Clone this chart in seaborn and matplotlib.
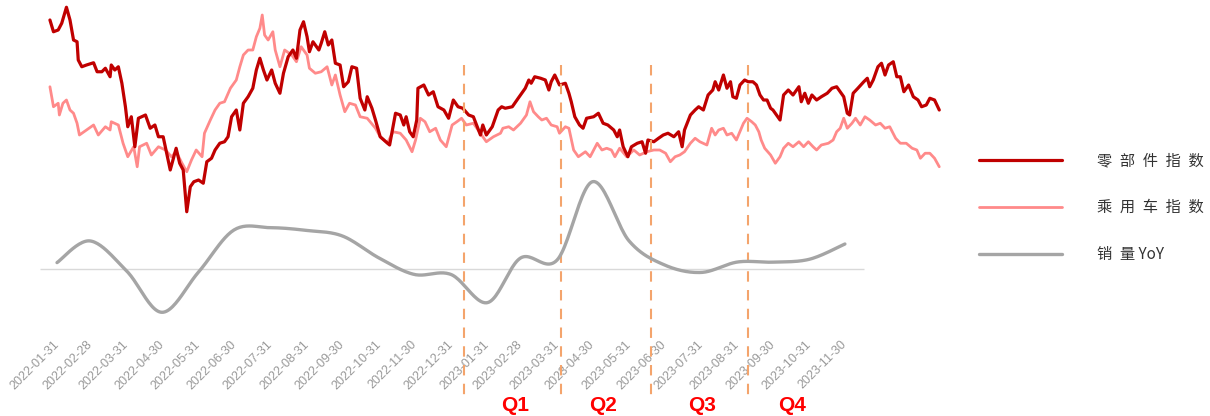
import numpy as np
import pandas as pd
import matplotlib
matplotlib.use("Agg")
import matplotlib.pyplot as plt
import matplotlib.dates as mdates
import matplotlib.transforms as mtransforms
import seaborn as sns

# ---------------- data ----------------
tick_labels = ["2022-01-31", "2022-02-28", "2022-03-31", "2022-04-30", "2022-05-31",
               "2022-06-30", "2022-07-31", "2022-08-31", "2022-09-30", "2022-10-31",
               "2022-11-30", "2022-12-31", "2023-01-31", "2023-02-28", "2023-03-31",
               "2023-04-30", "2023-05-31", "2023-06-30", "2023-07-31", "2023-08-31",
               "2023-09-30", "2023-10-31", "2023-11-30"]
# 销量 YoY (%), monthly
sales_yoy = [4.3, 18.4, -1.1, -28.0, -1.8, 25.5, 27.0, 25.2, 21.6, 7.3, -3.4, -3.4,
             -21.7, 7.3, 6.0, 56.9, 18.4, 2.8, -2.1, 4.7, 4.6, 6.5, 16.4]

index_start = "2022-01-25"
# 零部件指数: day offsets from index_start and index level
parts_day = [0, 3, 7, 10, 14, 17, 20, 23, 24, 27,
             31, 37, 40, 44, 47, 51, 52, 55, 58, 61,
             64, 66, 69, 72, 75, 81, 85, 89, 92, 96,
             99, 102, 105, 107, 110, 113, 116, 119, 122, 126,
             130, 133, 137, 140, 144, 148, 151, 154, 158, 161,
             164, 168, 172, 175, 178, 181, 184, 188, 191, 195,
             198, 202, 206, 209, 212, 215, 218, 220, 223, 228,
             230, 233, 236, 239, 242, 246, 249, 253, 256, 260,
             263, 267, 269, 273, 276, 280, 288, 293, 297, 300,
             302, 305, 308, 311, 312, 317, 321, 325, 329, 334,
             338, 342, 346, 350, 355, 359, 365, 367, 370, 375,
             380, 383, 386, 392, 397, 403, 406, 408, 411, 416,
             420, 423, 425, 428, 432, 437, 440, 442, 445, 449,
             452, 455, 461, 465, 469, 473, 478, 481, 483, 486,
             490, 493, 498, 502, 505, 507, 512, 516, 520, 524,
             529, 533, 536, 538, 543, 547, 550, 554, 558, 562,
             564, 567, 571, 574, 577, 579, 582, 585, 589, 592,
             596, 599, 602, 605, 608, 611, 613, 616, 619, 622,
             626, 630, 635, 637, 640, 643, 646, 650, 654, 659,
             663, 667, 670, 673, 676, 678, 681, 685, 690, 693,
             695, 698, 702, 705, 708, 711, 715, 718, 721, 724,
             728, 732, 736, 739, 743, 746, 750, 754]
parts_idx = [4840, 4746, 4760, 4814, 4942, 4840, 4680, 4666, 4520, 4466,
             4480, 4498, 4426, 4426, 4454, 4386, 4480, 4440, 4466, 4334,
             4146, 3986, 4066, 3826, 4054, 4080, 3974, 4000, 3906, 3906,
             3774, 3640, 3746, 3814, 3694, 3640, 3306, 3506, 3546, 3560,
             3534, 3706, 3734, 3800, 3854, 3866, 3906, 4066, 4120, 3960,
             4174, 4226, 4294, 4440, 4534, 4440, 4360, 4440, 4334, 4254,
             4414, 4546, 4600, 4534, 4760, 4826, 4706, 4586, 4666, 4600,
             4654, 4746, 4640, 4680, 4494, 4480, 4306, 4346, 4466, 4454,
             4214, 4120, 4226, 4134, 4040, 3906, 3840, 4094, 4080, 4000,
             4066, 3946, 3906, 4040, 4294, 4320, 4240, 4266, 4146, 4120,
             4054, 4200, 4146, 4134, 4080, 4066, 3920, 4000, 3920, 3986,
             4120, 4146, 4134, 4146, 4214, 4294, 4360, 4334, 4386, 4374,
             4360, 4280, 4346, 4400, 4320, 4334, 4254, 4186, 4066, 4000,
             3974, 4054, 4066, 4094, 4014, 4000, 3960, 3906, 3960, 3826,
             3746, 3826, 3854, 3866, 3774, 3880, 3866, 3894, 3920, 3934,
             3906, 3946, 3826, 3960, 4080, 4120, 4146, 4120, 4240, 4280,
             4346, 4280, 4400, 4294, 4346, 4226, 4214, 4320, 4360, 4346,
             4346, 4320, 4240, 4200, 4200, 4134, 4120, 4080, 4040, 4240,
             4280, 4240, 4306, 4186, 4254, 4174, 4240, 4200, 4226, 4254,
             4294, 4306, 4266, 4226, 4094, 4080, 4254, 4294, 4346, 4374,
             4306, 4360, 4466, 4494, 4400, 4480, 4506, 4386, 4386, 4266,
             4320, 4226, 4200, 4146, 4160, 4214, 4200, 4120]
# 乘用车指数
car_day = [0, 3, 7, 8, 11, 14, 17, 20, 23, 25,
           31, 37, 41, 47, 51, 52, 58, 62, 66, 71,
           74, 76, 82, 86, 92, 98, 103, 107, 112, 116,
           120, 124, 129, 131, 136, 140, 144, 148, 153, 158,
           161, 164, 168, 172, 175, 178, 180, 182, 185, 189,
           191, 195, 199, 205, 209, 213, 218, 220, 225, 230,
           235, 239, 242, 246, 250, 254, 259, 263, 269, 276,
           280, 286, 291, 297, 302, 307, 310, 314, 318, 322,
           327, 331, 336, 341, 345, 349, 353, 359, 365, 370,
           376, 382, 384, 389, 393, 399, 404, 407, 410, 414,
           417, 421, 425, 430, 432, 437, 440, 444, 448, 454,
           458, 464, 468, 472, 476, 479, 483, 489, 495, 500,
           506, 512, 517, 522, 526, 530, 534, 538, 543, 547,
           551, 557, 561, 564, 567, 571, 574, 578, 582, 585,
           588, 591, 595, 598, 601, 603, 606, 611, 615, 619,
           622, 626, 630, 635, 639, 643, 647, 650, 654, 660,
           664, 667, 670, 673, 676, 680, 683, 687, 691, 695,
           700, 704, 708, 712, 717, 721, 726, 731, 735, 738,
           742, 746, 750, 754]
car_idx = [4306, 4146, 4174, 4080, 4174, 4200, 4120, 4094, 4014, 3920,
           3960, 4000, 3920, 3986, 3960, 4026, 4000, 3854, 3746, 3826,
           3666, 3826, 3854, 3760, 3826, 3800, 3746, 3786, 3694, 3626,
           3720, 3800, 3746, 3934, 4040, 4120, 4174, 4186, 4294, 4360,
           4466, 4560, 4600, 4600, 4706, 4774, 4880, 4720, 4680, 4746,
           4600, 4466, 4600, 4560, 4506, 4626, 4560, 4454, 4414, 4426,
           4466, 4320, 4400, 4240, 4106, 4174, 4160, 4066, 4054, 3974,
           3906, 3854, 3946, 3934, 3880, 3786, 3880, 4054, 4026, 3946,
           3974, 3880, 3826, 4000, 4026, 4054, 4000, 4014, 3934, 3866,
           3906, 3934, 3974, 3986, 3960, 4014, 4080, 4186, 4106, 4066,
           4040, 4054, 4000, 3986, 3934, 3986, 3974, 3800, 3746, 3786,
           3746, 3854, 3800, 3814, 3800, 3746, 3814, 3746, 3800, 3760,
           3786, 3800, 3800, 3774, 3706, 3746, 3760, 3786, 3854, 3894,
           3866, 3840, 3974, 3920, 3960, 3974, 3920, 3934, 3880, 3946,
           4014, 4054, 4026, 4000, 3946, 3880, 3814, 3760, 3694, 3746,
           3814, 3854, 3826, 3866, 3826, 3866, 3826, 3800, 3840, 3854,
           3880, 3946, 3974, 4054, 3974, 4014, 4054, 4000, 4066, 4040,
           4000, 4014, 3974, 3986, 3894, 3854, 3854, 3814, 3800, 3734,
           3774, 3774, 3734, 3666]

quarter_lines = ["2023-01-11", "2023-04-03", "2023-06-19", "2023-09-09"]
quarter_names = ["Q1", "Q2", "Q3", "Q4"]
quarter_label_at = ["2023-02-23", "2023-05-09", "2023-08-01", "2023-10-16"]
series_names = ["零部件指数", "乘用车指数", "销量 YoY"]

# ---------------- style ----------------
sns.set_theme(style="white")
plt.rcParams["font.family"] = ["Noto Sans CJK SC", "DejaVu Sans"]

C_PARTS = "#C00000"
C_CAR = "#FF8A8A"
C_YOY = "#A5A5A5"
C_Q = "#F4A46C"

def to_num(dates):
    return mdates.date2num(pd.to_datetime(dates))

base = pd.Timestamp(index_start)
parts_x = to_num(base + pd.to_timedelta(parts_day, unit="D"))
car_x = to_num(base + pd.to_timedelta(car_day, unit="D"))
month_x = to_num(tick_labels)

def smooth(x, y, n=24):
    P = np.column_stack([np.asarray(x, float), np.asarray(y, float)])
    E = np.vstack([P[0], P, P[-1]])
    t = np.linspace(0, 1, n, endpoint=False)[:, None]
    segs = []
    for i in range(len(P) - 1):
        p0, p1, p2, p3 = E[i], E[i + 1], E[i + 2], E[i + 3]
        c1 = p1 + (p2 - p0) / 6.0
        c2 = p2 - (p3 - p1) / 6.0
        segs.append((1 - t) ** 3 * p1 + 3 * (1 - t) ** 2 * t * c1
                    + 3 * (1 - t) * t ** 2 * c2 + t ** 3 * p2)
    segs.append(P[-1][None])
    return np.vstack(segs)

def spaced(label):
    # wide character spacing as in the original legend
    head, _, tail = label.partition(" ")
    out = "\u2002".join(head)
    return out + (" " + tail if tail else "")

fig = plt.figure(figsize=(12.1, 4.16), dpi=100)
ax = fig.add_axes([30 / 1210, 86 / 416, 920 / 1210, 330 / 416])
ax2 = ax.twinx()

sns.lineplot(x=parts_x, y=parts_idx, ax=ax, color=C_PARTS, linewidth=2.3,
             estimator=None, sort=False, label=series_names[0], legend=False)
sns.lineplot(x=car_x, y=car_idx, ax=ax, color=C_CAR, linewidth=2.0,
             estimator=None, sort=False, label=series_names[1], legend=False)
ax.lines[1].set_zorder(1.5)
ax.lines[0].set_zorder(2)

sm = smooth(month_x, sales_yoy)
t0 = mdates.date2num(pd.Timestamp("2022-01-31"))
ax2.hlines(0, t0 - 14.4, t0 + 684, color="#D9D9D9", linewidth=1.0, zorder=1)
sns.lineplot(x=sm[:, 0], y=sm[:, 1], ax=ax2, color=C_YOY, linewidth=2.4,
             estimator=None, sort=False, label=series_names[2], legend=False)

ax.set_ylim(2360, 5000)
ax2.set_ylim(-39.5, 175.0)
ax.set_xlim(t0 - 22.9, t0 + 757.1)

for a in (ax, ax2):
    for s in a.spines.values():
        s.set_visible(False)
    a.set_ylabel("")
    a.set_yticks([])
    a.grid(False)
ax.patch.set_alpha(0)
ax2.patch.set_alpha(0)

ax.set_xticks(month_x)
ax.set_xticklabels(tick_labels, rotation=45, ha="right", va="center",
                   rotation_mode="anchor", fontsize=9, color="#999999",
                   family=["Liberation Sans", "DejaVu Sans"])
ax.tick_params(axis="x", length=0, pad=9)
ax2.tick_params(axis="x", length=0)

trans = mtransforms.blended_transform_factory(ax.transData, ax.transAxes)
for q in to_num(quarter_lines):
    ax.plot([q, q], [0.803, -0.21], transform=trans, clip_on=False,
            color=C_Q, linewidth=1.5, linestyle=(0, (5, 4)), zorder=3)
for name, d in zip(quarter_names, to_num(quarter_label_at)):
    ax.text(d, -0.228, name, transform=trans, ha="center", va="center",
            fontsize=15, fontweight="bold", color="#FF0000",
            family=["Liberation Sans", "DejaVu Sans"])

handles = ax.get_lines()[:2] + [l for l in ax2.get_lines() if l.get_label() == series_names[2]]
fig.legend(handles, [spaced(s) for s in series_names], loc="upper left",
           bbox_to_anchor=(979 / 1210, 1 - 152 / 416), frameon=False,
           fontsize=11, handlelength=5.4, handletextpad=2.3, labelspacing=1.98,
           borderpad=0, borderaxespad=0, labelcolor="#333333")

fig.savefig("out.png", dpi=100)
